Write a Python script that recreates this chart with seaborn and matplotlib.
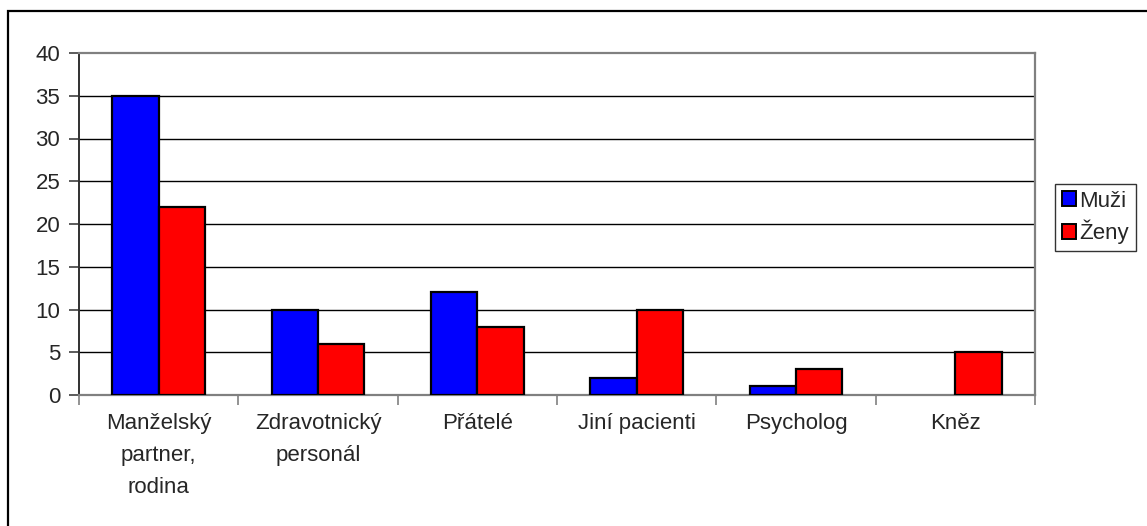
import matplotlib
matplotlib.use("Agg")
import matplotlib.pyplot as plt
from matplotlib.patches import Rectangle
from matplotlib.ticker import FixedLocator, NullFormatter
import seaborn as sns
import pandas as pd

categories = ["Manželský\npartner,\nrodina", "Zdravotnický\npersonál", "Přátelé",
              "Jiní pacienti", "Psycholog", "Kněz"]
muzi = [35, 10, 12, 2, 1, 0]
zeny = [22, 6, 8, 10, 3, 5]
series_names = ["Muži", "Ženy"]
y_ticks = [0, 5, 10, 15, 20, 25, 30, 35, 40]

df = pd.DataFrame({
    "kategorie": categories * 2,
    "pohlavi": [series_names[0]] * len(categories) + [series_names[1]] * len(categories),
    "pocet": muzi + zeny,
})

sns.set_theme(style="white")
plt.rcParams["font.family"] = ["Liberation Sans", "DejaVu Sans"]

FS = 16
W, H = 1147, 526
fig = plt.figure(figsize=(W / 100, H / 100), dpi=100)
fig.patch.set_facecolor("white")
ax = fig.add_axes([79 / W, (H - 395) / H, (1035 - 79) / W, (395 - 53) / H])

sns.barplot(data=df, x="kategorie", y="pocet", hue="pohlavi",
            palette=["#0000FF", "#FF0000"], width=0.58, gap=0,
            edgecolor="black", linewidth=1.6, saturation=1,
            ax=ax, legend=False, zorder=3)

# hide the outline of empty bars
for p in ax.patches:
    if p.get_height() == 0:
        p.set_linewidth(0)

ax.set_xlim(-0.5, len(categories) - 0.5)
ax.set_ylim(0, 40)
ax.set_yticks(y_ticks)
ax.set_yticklabels([str(v) for v in y_ticks])
ax.set_xlabel("")
ax.set_ylabel("")

# horizontal gridlines
for v in y_ticks[1:-1]:
    ax.axhline(v, color="black", linewidth=1.0, zorder=1)

# category labels without tick marks, tick marks between categories
ax.tick_params(axis="x", which="major", length=0, pad=13, labelsize=FS)
for lbl in ax.get_xticklabels():
    lbl.set_linespacing(1.7)
    lbl.set_verticalalignment("top")
ax.xaxis.set_minor_locator(FixedLocator([i - 0.5 for i in range(len(categories) + 1)]))
ax.xaxis.set_minor_formatter(NullFormatter())
ax.tick_params(axis="x", which="minor", length=7, width=1.2, color="#808080",
               direction="out", bottom=True)
ax.tick_params(axis="y", which="major", length=7, width=1.2, color="#404040",
               direction="out", left=True, pad=6.5, labelsize=FS)

for side in ["top", "right", "bottom"]:
    ax.spines[side].set_visible(True)
    ax.spines[side].set_color("#808080")
    ax.spines[side].set_linewidth(1.6)
ax.spines["left"].set_color("#303030")
ax.spines["left"].set_linewidth(1.4)

# legend
handles = [Rectangle((0, 0), 1, 1, facecolor=c, edgecolor="black", linewidth=1.4)
           for c in ["#0000FF", "#FF0000"]]
leg = fig.legend(handles, series_names, loc="upper left",
                 bbox_to_anchor=(1055 / W, (H - 184) / H),
                 frameon=True, fancybox=False, fontsize=FS,
                 handlelength=0.65, handleheight=0.65, handletextpad=0.15,
                 labelspacing=0.35, borderpad=0.3, borderaxespad=0)
leg.get_frame().set_edgecolor("black")
leg.get_frame().set_linewidth(1.0)

# chart frame
fig.add_artist(Rectangle((8 / W, -0.05), 1.2, (H - 11) / H + 0.05,
                         transform=fig.transFigure, fill=False,
                         edgecolor="black", linewidth=1.6, zorder=0))

fig.savefig("out.png", dpi=100, facecolor="white")
